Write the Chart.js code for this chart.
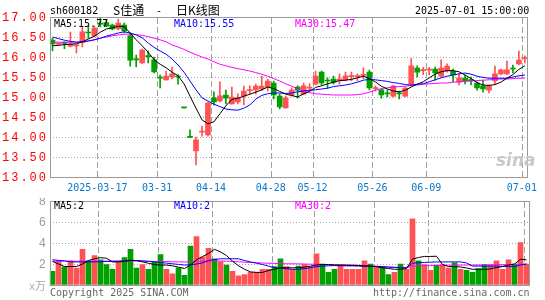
<!DOCTYPE html>
<html lang="zh-CN">
<head>
<meta charset="UTF-8">
<title>S佳通 - 日K线图</title>
<script src="https://cdn.jsdelivr.net/npm/chart.js"></script>
<style>
  body { margin: 0; background: #fff; }
  #wrap { position: relative; width: 545px; height: 300px; overflow: hidden; background: #fff; }
  canvas { position: absolute; left: 0; }
  .t { position: absolute; font: 10px "DejaVu Sans Mono", monospace; line-height: 12px; white-space: pre; color: #000; }
  .cjk { font-family: "Noto Sans CJK SC", sans-serif; font-size: 12px; }
</style>
</head>
<body>
<div id="wrap">
  <canvas id="kChart" width="545" height="198" style="top:0"></canvas>
  <canvas id="volChart" width="545" height="102" style="top:198px"></canvas>

  <div class="t" style="left:50px;top:5px">sh600182</div>
  <div class="t" style="left:113px;top:4px"><span class="cjk">S佳通</span></div>
  <div class="t" style="left:156px;top:5px">-</div>
  <div class="t" style="left:176px;top:4px"><span class="cjk">日K线图</span></div>
  <div class="t" style="left:415px;top:5px">2025-07-01 15:00:00</div>

  <div class="t" style="left:54px;top:18px">MA5:15.77</div>
  <div class="t" style="left:174px;top:18px;color:#0000ff">MA10:15.55</div>
  <div class="t" style="left:295px;top:18px;color:#ff00ff">MA30:15.47</div>

  <div class="t" style="left:54px;top:200px">MA5:2</div>
  <div class="t" style="left:174px;top:200px;color:#0000ff">MA10:2</div>
  <div class="t" style="left:295px;top:200px;color:#ff00ff">MA30:2</div>

  <div class="t" style="left:29px;top:279px;color:#aaa">x<span class="cjk" style="font-size:11px">万</span></div>
  <div class="t" style="left:50px;top:287px;color:#666">Copyright 2025 SINA.COM</div>
  <div class="t" style="left:373px;top:287px;color:#666">http://finance.sina.com.cn</div>
  <div class="t" style="left:496px;top:150px;font:italic bold 17px 'DejaVu Sans',sans-serif;color:#c8c8c8">sina</div>
</div>

<script>
// trading days shown on the chart
const dates = ['03-05','03-06','03-07','03-10','03-11','03-12','03-13','03-14','03-17','03-18',
  '03-19','03-20','03-21','03-24','03-25','03-26','03-27','03-28','03-31','04-01',
  '04-02','04-03','04-07','04-08','04-09','04-10','04-11','04-14','04-15','04-16',
  '04-17','04-18','04-21','04-22','04-23','04-24','04-25','04-28','04-29','04-30',
  '05-06','05-07','05-08','05-09','05-12','05-13','05-14','05-15','05-16','05-19',
  '05-20','05-21','05-22','05-23','05-26','05-27','05-28','05-29','05-30','06-03',
  '06-04','06-05','06-06','06-09','06-10','06-11','06-12','06-13','06-16','06-17',
  '06-18','06-19','06-20','06-23','06-24','06-25','06-26','06-27','06-30','07-01'];
const tickDates = ['03-17','03-31','04-14','04-28','05-12','05-26','06-09','07-01'];
const firstYear = '2025';

const open = [16.42,16.32,16.35,16.27,16.28,16.36,16.61,16.53,16.84,16.86,
  16.80,16.70,16.80,16.53,15.94,15.85,16.03,15.93,15.49,15.43,
  15.50,15.51,14.74,14.00,13.65,14.12,14.05,14.98,14.90,15.05,
  14.83,14.88,15.02,15.16,15.18,15.20,15.25,15.35,15.02,14.73,
  15.05,15.25,15.07,15.22,15.32,15.62,15.41,15.45,15.42,15.43,
  15.51,15.51,15.54,15.62,15.21,15.18,15.09,15.02,15.09,15.02,
  15.33,15.72,15.66,15.67,15.70,15.52,15.65,15.64,15.37,15.47,
  15.42,15.35,15.28,15.17,15.40,15.58,15.58,15.71,15.83,15.96];
const high = [16.47,16.36,16.38,16.62,16.31,16.75,16.80,16.77,17.00,16.93,
  16.82,16.95,16.85,16.60,16.05,16.20,16.15,16.00,15.55,15.65,
  15.75,15.56,14.74,14.18,14.00,14.27,14.87,15.13,15.38,15.17,
  15.25,15.08,15.27,15.28,15.32,15.52,15.45,15.40,15.07,15.02,
  15.23,15.28,15.35,15.33,15.65,15.65,15.48,15.52,15.58,15.62,
  15.62,15.58,15.73,15.67,15.28,15.20,15.18,15.30,15.15,15.25,
  15.96,15.78,15.74,15.74,15.75,15.93,15.83,15.70,15.57,15.55,
  15.50,15.38,15.42,15.30,15.77,15.70,15.90,15.80,16.15,16.03];
const low = [16.15,16.31,16.21,16.25,16.10,16.25,16.47,16.50,16.75,16.76,
  16.68,16.68,16.60,15.77,15.75,15.84,15.85,15.60,15.23,15.42,
  15.45,15.32,14.72,13.99,13.30,14.02,14.02,14.80,14.88,14.83,
  14.82,14.83,14.80,15.07,15.07,15.16,15.15,14.95,14.70,14.72,
  15.02,14.97,15.05,15.15,15.30,15.30,15.22,15.32,15.32,15.40,
  15.40,15.40,15.45,15.18,15.15,14.97,15.00,15.00,14.95,15.00,
  15.28,15.50,15.56,15.55,15.42,15.50,15.62,15.38,15.30,15.33,
  15.30,15.17,15.12,15.10,15.33,15.55,15.56,15.60,15.80,15.85];
const close = [16.33,16.35,16.34,16.32,16.29,16.63,16.60,16.72,16.82,16.77,
  16.70,16.85,16.65,15.92,15.93,16.17,16.01,15.63,15.47,15.52,
  15.58,15.50,14.73,13.99,13.93,14.14,14.85,14.88,15.03,14.97,
  15.00,14.98,15.15,15.18,15.27,15.27,15.40,15.05,14.75,14.97,
  15.17,15.17,15.28,15.24,15.52,15.35,15.40,15.37,15.44,15.53,
  15.52,15.53,15.56,15.23,15.23,15.05,15.08,15.27,15.08,15.22,
  15.78,15.62,15.67,15.68,15.60,15.72,15.77,15.55,15.48,15.40,
  15.41,15.23,15.20,15.28,15.58,15.68,15.68,15.70,15.92,15.97];

const ma5 = [16.28,16.29,16.31,16.32,16.33,16.38,16.45,16.52,16.62,16.70,
  16.73,16.77,16.76,16.60,16.43,16.28,16.12,15.93,15.82,15.73,
  15.62,15.53,15.33,15.02,14.72,14.43,14.33,14.38,14.58,14.78,
  14.94,14.97,15.02,15.07,15.12,15.18,15.25,15.21,15.14,15.07,
  15.04,15.00,15.08,15.14,15.24,15.28,15.33,15.37,15.41,15.42,
  15.44,15.48,15.52,15.46,15.38,15.27,15.20,15.15,15.13,15.17,
  15.25,15.32,15.38,15.48,15.57,15.63,15.66,15.66,15.63,15.55,
  15.46,15.36,15.30,15.29,15.31,15.37,15.47,15.56,15.69,15.78];
const ma10 = [16.50,16.46,16.42,16.39,16.37,16.38,16.40,16.43,16.47,16.52,
  16.56,16.60,16.63,16.60,16.55,16.48,16.35,16.24,16.15,16.07,
  15.95,15.80,15.62,15.40,15.18,14.98,14.90,14.82,14.76,14.70,
  14.68,14.67,14.72,14.80,14.95,15.04,15.08,15.10,15.10,15.09,
  15.10,15.13,15.15,15.17,15.18,15.20,15.22,15.26,15.28,15.30,
  15.33,15.37,15.42,15.44,15.43,15.41,15.39,15.36,15.34,15.31,
  15.30,15.32,15.33,15.38,15.43,15.48,15.52,15.55,15.58,15.60,
  15.57,15.52,15.49,15.47,15.47,15.47,15.47,15.50,15.53,15.55];
const ma30 = [16.37,16.37,16.37,16.37,16.37,16.38,16.40,16.43,16.47,16.50,
  16.53,16.55,16.57,16.57,16.56,16.54,16.51,16.47,16.43,16.38,
  16.30,16.25,16.19,16.12,16.06,16.00,15.95,15.88,15.82,15.78,
  15.74,15.71,15.68,15.65,15.61,15.57,15.52,15.46,15.40,15.33,
  15.27,15.20,15.14,15.11,15.08,15.07,15.06,15.05,15.05,15.05,
  15.05,15.06,15.08,15.12,15.17,15.21,15.23,15.25,15.26,15.27,
  15.29,15.30,15.32,15.33,15.34,15.35,15.35,15.37,15.38,15.39,
  15.40,15.41,15.42,15.43,15.44,15.45,15.45,15.46,15.47,15.47];

// volume, in the chart's own unit
const volume = [1.3,2.3,1.7,2.3,1.6,3.4,2.3,2.8,2.4,1.95,
  1.5,2.2,2.6,3.4,1.6,1.95,1.5,2.2,2.9,1.5,
  1.07,1.64,0.93,3.7,4.6,2.65,3.5,2.5,2.2,1.9,
  1.3,0.88,1.0,1.2,1.2,1.5,1.5,1.76,2.5,1.76,
  1.5,1.8,1.95,1.76,2.97,2.0,1.2,1.5,1.9,1.5,
  1.5,1.5,2.3,2.0,1.76,1.7,1.0,1.2,2.0,1.5,
  6.3,2.3,1.95,1.4,1.9,1.95,1.6,2.1,1.5,1.4,
  1.2,1.57,1.95,1.9,2.3,1.5,2.4,2.0,4.05,2.0];
const vma5 = [2.24,2.0,1.76,1.76,1.76,2.0,2.33,2.5,2.6,2.55,
  2.2,2.2,2.25,2.35,2.33,2.2,2.07,1.95,1.9,1.9,
  1.83,1.7,1.57,1.9,2.4,2.7,3.0,3.4,3.15,2.8,
  2.27,1.83,1.5,1.25,1.2,1.2,1.38,1.5,1.64,1.64,
  1.64,1.64,1.7,1.8,1.9,1.95,1.95,1.9,1.9,1.88,
  1.87,1.85,1.83,1.8,1.75,1.64,1.57,1.5,1.5,1.57,
  2.46,2.62,2.72,2.72,2.74,1.95,1.76,1.74,1.72,1.62,
  1.5,1.5,1.48,1.54,1.66,1.76,1.9,2.0,2.45,2.4];
const vma10 = [2.4,2.35,2.3,2.2,2.2,2.2,2.2,2.2,2.22,2.24,
  2.25,2.27,2.3,2.33,2.33,2.3,2.25,2.2,2.14,2.08,
  2.02,1.96,1.9,1.92,2.0,2.1,2.33,2.42,2.5,2.5,
  2.5,2.5,2.33,2.2,2.08,1.95,1.8,1.65,1.6,1.55,
  1.5,1.5,1.55,1.65,1.75,1.8,1.83,1.85,1.84,1.82,
  1.82,1.8,1.78,1.77,1.76,1.74,1.7,1.67,1.65,1.64,
  2.08,2.12,2.15,2.17,2.2,2.2,2.2,2.2,2.2,2.1,
  1.8,1.8,1.8,1.8,1.8,1.78,1.77,1.76,1.9,2.0];
const vma30 = [2.27,2.27,2.27,2.26,2.26,2.26,2.26,2.26,2.27,2.27,
  2.27,2.27,2.28,2.28,2.28,2.27,2.26,2.25,2.24,2.23,
  2.21,2.2,2.19,2.22,2.25,2.26,2.28,2.28,2.28,2.27,
  2.24,2.21,2.18,2.15,2.12,2.09,2.07,2.05,2.04,2.02,
  2.02,2.01,2.0,1.98,1.98,1.96,1.94,1.93,1.92,1.91,
  1.9,1.88,1.86,1.83,1.79,1.76,1.72,1.69,1.67,1.64,
  1.8,1.83,1.85,1.85,1.86,1.87,1.88,1.89,1.9,1.9,
  1.9,1.91,1.91,1.92,1.93,1.94,1.95,1.96,1.98,1.99];

const RED = '#ff5252', GREEN = '#00a000';
const GRID = '#a8a8a8', DASH = '#a0a0a0', FRAME = '#9a9a9a';
const MONO = '"DejaVu Sans Mono", monospace';

const candleColor = close.map((c, i) => c >= open[i] ? RED : GREEN);
const tickIdx = tickDates.map(d => dates.indexOf(d));

// dashed lines at the labelled dates (left edge of that day's bar) under the data, box on top
function panel(barSet) {
  return {
    id: 'panel',
    beforeDatasetsDraw(chart) {
      const a = chart.chartArea, ctx = chart.ctx;
      const bars = chart.getDatasetMeta(barSet).data;
      const slot = bars[1].x - bars[0].x;
      ctx.save();
      ctx.fillStyle = DASH;
      for (const i of tickIdx) {
        const px = Math.round(bars[i].x - slot / 2);
        for (let y = Math.round(a.top) + 1; y < a.bottom; y += 9) {
          ctx.fillRect(px, y, 1, Math.min(6, a.bottom - y));
        }
      }
      ctx.restore();
    },
    afterDraw(chart) {
      const a = chart.chartArea, ctx = chart.ctx;
      ctx.save();
      ctx.strokeStyle = FRAME;
      ctx.lineWidth = 1;
      ctx.strokeRect(Math.round(a.left) + 0.5, Math.round(a.top) + 0.5,
        Math.round(a.right) - Math.round(a.left) - 1, Math.round(a.bottom) - Math.round(a.top));
      ctx.restore();
    }
  };
}

// left axis numbers are drawn with wide spacing like the original
function axisNumbers(color, fmt, skipZero) {
  return {
    id: 'axisNumbers',
    afterDraw(chart) {
      const y = chart.scales.y, ctx = chart.ctx;
      ctx.save();
      ctx.font = '12px "Liberation Mono", monospace';
      ctx.fillStyle = color;
      ctx.textAlign = 'right';
      ctx.textBaseline = 'middle';
      if ('letterSpacing' in ctx) ctx.letterSpacing = '2px';
      y.ticks.forEach(t => {
        if (skipZero && t.value === 0) return;
        ctx.fillText(fmt(t.value), 48, y.getPixelForValue(t.value) + 1);
      });
      ctx.restore();
    }
  };
}

const yGridColor = (lo, hi) => c => (c.tick && (c.tick.value === lo || c.tick.value === hi)) ? 'rgba(0,0,0,0)' : GRID;

const maLine = (data, color) => ({
  type: 'line', data, borderColor: color, borderWidth: 1,
  pointRadius: 0, tension: 0, order: 1
});

new Chart(document.getElementById('kChart'), {
  type: 'bar',
  data: {
    labels: dates,
    datasets: [
      maLine(ma5, '#000000'),
      maLine(ma10, '#0000ff'),
      maLine(ma30, '#ff00ff'),
      {
        data: dates.map((d, i) => [low[i], high[i]]),
        backgroundColor: candleColor, barThickness: 1, grouped: false, order: 3
      },
      {
        data: dates.map((d, i) => [open[i], close[i]]),
        backgroundColor: candleColor, barThickness: 5, minBarLength: 1, grouped: false, order: 2
      }
    ]
  },
  options: {
    responsive: false,
    animation: false,
    devicePixelRatio: 1,
    layout: { padding: { top: 17, right: 15.5, left: 0, bottom: 0 } },
    plugins: { legend: { display: false }, tooltip: { enabled: false } },
    scales: {
      x: {
        offset: true,
        grid: { display: false, drawTicks: false },
        border: { display: false },
        afterFit: s => { s.height = 21; },
        ticks: {
          autoSkip: false, maxRotation: 0, minRotation: 0, padding: 5, labelOffset: -3,
          color: '#0a78cc', font: { family: MONO, size: 10 },
          callback: (v, i) => {
            const n = tickIdx.indexOf(i);
            if (n < 0) return '';
            return n === 0 ? firstYear + '-' + dates[i] : dates[i];
          }
        }
      },
      y: {
        min: 13, max: 17,
        afterFit: s => { s.width = 49.5; },
        grid: { drawTicks: false, color: yGridColor(13, 17) },
        border: { display: false, dash: [1, 2] },
        ticks: { stepSize: 0.5, display: false }
      }
    }
  },
  plugins: [panel(4), axisNumbers('#ff0000', v => v.toFixed(2), false)]
});

new Chart(document.getElementById('volChart'), {
  type: 'bar',
  data: {
    labels: dates,
    datasets: [
      maLine(vma5, '#000000'),
      maLine(vma10, '#0000ff'),
      maLine(vma30, '#ff00ff'),
      { data: volume, backgroundColor: candleColor, barThickness: 5, grouped: false, order: 2 }
    ]
  },
  options: {
    responsive: false,
    animation: false,
    devicePixelRatio: 1,
    layout: { padding: { top: 3, right: 15.5, left: 0, bottom: 15 } },
    plugins: { legend: { display: false }, tooltip: { enabled: false } },
    scales: {
      x: {
        offset: true,
        grid: { display: false, drawTicks: false },
        border: { display: false },
        afterFit: s => { s.height = 0; },
        ticks: { display: false }
      },
      y: {
        min: 0, max: 8,
        afterFit: s => { s.width = 49.5; },
        grid: { drawTicks: false, color: yGridColor(0, 8) },
        border: { display: false, dash: [1, 2] },
        ticks: { stepSize: 2, display: false }
      }
    }
  },
  plugins: [panel(3), axisNumbers('#999999', v => String(v), true)]
});
</script>
</body>
</html>
